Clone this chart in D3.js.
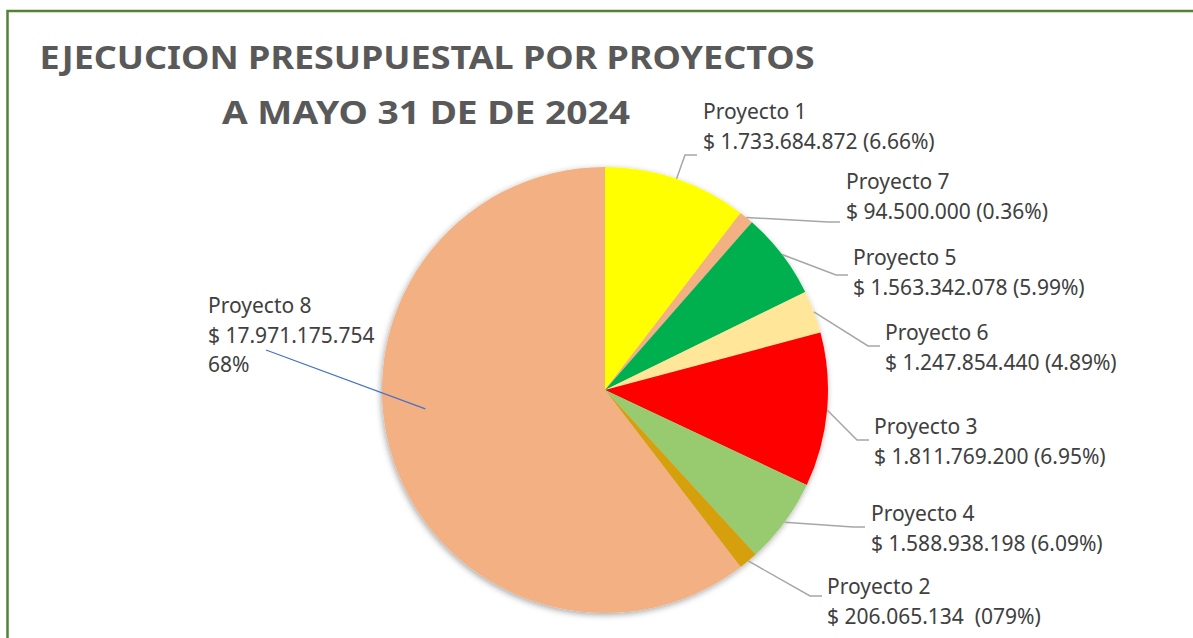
<!DOCTYPE html>
<html>
<head>
<meta charset="utf-8">
<script src="https://cdn.jsdelivr.net/npm/d3@7"></script>
<style>
  body { margin: 0; background: #fff; }
  svg { display: block; }
</style>
</head>
<body>
<div id="pie-chart"></div>
<script>
// slices in drawing order, clockwise from 12 o'clock
const proyectos = ['Proyecto 1', 'Proyecto 7', 'Proyecto 5', 'Proyecto 6', 'Proyecto 3', 'Proyecto 4', 'Proyecto 2', 'Proyecto 8']
const montos = ['$ 1.733.684.872', '$ 94.500.000', '$ 1.563.342.078', '$ 1.247.854.440', '$ 1.811.769.200', '$ 1.588.938.198', '$ 206.065.134', '$ 17.971.175.754']
const porcentajes = ['(6.66%)', '(0.36%)', '(5.99%)', '(4.89%)', '(6.95%)', '(6.09%)', ' (079%)', '68%']
// share of the circle each slice takes in the picture (percent)
const sliceShare = [10.4, 1.05, 6.3, 3.1, 11.15, 6.2, 1.4, 60.4]
const colores = ['#FFFF00', '#F2B083', '#00B050', '#FFE699', '#FF0000', 'url(#grad-p4)', 'url(#grad-p2)', '#F2B083']

const titulo = ['EJECUCION PRESUPUESTAL POR PROYECTOS', 'A MAYO 31 DE DE 2024']

const width = 1193
const height = 638
const cx = 605
const cy = 390
const radius = 223

// label text position and where its leader line ends
const labelLayout = [
  { tx: 703, ty: 119, lx: 697, ly: 155 },
  { tx: 846, ty: 189, lx: 840, ly: 222 },
  { tx: 853, ty: 265, lx: 848, ly: 275 },
  { tx: 885, ty: 340, lx: 880, ly: 346 },
  { tx: 874, ty: 434, lx: 869, ly: 440 },
  { tx: 871, ty: 521, lx: 865, ly: 527 },
  { tx: 827, ty: 594, lx: 822, ly: 596 },
  { tx: 208, ty: 313, lx: 266, ly: 350 }
]

const datapoints = proyectos.map((p, i) => ({
  name: p,
  monto: montos[i],
  pct: porcentajes[i],
  share: sliceShare[i],
  color: colores[i],
  layout: labelLayout[i]
}))

const svg = d3
  .select('#pie-chart')
  .append('svg')
  .attr('width', width)
  .attr('height', height)

const defs = svg.append('defs')

const shadow = defs.append('filter')
  .attr('id', 'shadow')
  .attr('x', '-10%').attr('y', '-10%')
  .attr('width', '120%').attr('height', '120%')
shadow.append('feDropShadow')
  .attr('dx', -1).attr('dy', 2)
  .attr('stdDeviation', 3)
  .attr('flood-color', '#000')
  .attr('flood-opacity', 0.35)

const g4 = defs.append('linearGradient')
  .attr('id', 'grad-p4')
  .attr('gradientUnits', 'userSpaceOnUse')
  .attr('x1', 0).attr('y1', cy).attr('x2', 0).attr('y2', cy + radius * 0.8)
g4.append('stop').attr('offset', '0%').attr('stop-color', '#98CB70')
g4.append('stop').attr('offset', '100%').attr('stop-color', '#70AC4A')

const g2 = defs.append('linearGradient')
  .attr('id', 'grad-p2')
  .attr('gradientUnits', 'userSpaceOnUse')
  .attr('x1', 0).attr('y1', cy).attr('x2', 0).attr('y2', cy + radius)
g2.append('stop').attr('offset', '0%').attr('stop-color', '#D6A010')
g2.append('stop').attr('offset', '100%').attr('stop-color', '#C79000')

// green frame (top and left edges visible)
svg.append('path')
  .attr('d', `M7.5,${height + 5} L7.5,11 L${width + 5},11`)
  .attr('fill', 'none')
  .attr('stroke', '#548235')
  .attr('stroke-width', 2.5)

// title
const titleG = svg.append('g')
  .attr('font-family', 'Noto Sans, sans-serif')
  .attr('font-weight', 'bold')
  .attr('fill', '#595959')
  .attr('text-anchor', 'middle')

titleG.append('text')
  .attr('x', 427)
  .attr('y', 69)
  .attr('font-size', 32)
  .attr('textLength', 775)
  .attr('lengthAdjust', 'spacingAndGlyphs')
  .text(titulo[0])

titleG.append('text')
  .attr('x', 426)
  .attr('y', 124)
  .attr('font-size', 32)
  .attr('textLength', 408)
  .attr('lengthAdjust', 'spacingAndGlyphs')
  .text(titulo[1])

const pie = d3.pie()
  .sort(null)
  .value(d => d.share)

const arc = d3.arc()
  .innerRadius(0)
  .outerRadius(radius)

const arcs = pie(datapoints)

const pieG = svg.append('g')
  .attr('transform', `translate(${cx},${cy})`)

pieG.append('g')
  .attr('filter', 'url(#shadow)')
  .selectAll('path')
  .data(arcs)
  .enter()
  .append('path')
  .attr('d', arc)
  .attr('fill', d => d.data.color)

// leader lines
const leaders = svg.append('g')
  .attr('fill', 'none')

leaders.selectAll('path')
  .data(arcs)
  .enter()
  .append('path')
  .attr('d', d => {
    const L = d.data.layout
    if (d.data.name === 'Proyecto 8') {
      // inside leader: ends part way into the slice
      const a = 264 * Math.PI / 180
      const ex = cx + Math.sin(a) * radius * 0.81
      const ey = cy - Math.cos(a) * radius * 0.81
      return `M${L.lx},${L.ly} L${ex},${ey}`
    }
    const mid = (d.startAngle + d.endAngle) / 2
    const sx = cx + Math.sin(mid) * radius
    const sy = cy - Math.cos(mid) * radius
    return `M${sx},${sy} L${L.lx - 12},${L.ly} L${L.lx},${L.ly}`
  })
  .attr('stroke', d => d.data.name === 'Proyecto 8' ? '#4472C4' : '#A6A6A6')
  .attr('stroke-width', d => d.data.name === 'Proyecto 8' ? 1.2 : 1.5)

// labels
const labels = svg.append('g')
  .attr('font-family', 'Noto Sans, sans-serif')
  .attr('font-size', 21)
  .attr('fill', '#404040')

labels.selectAll('text')
  .data(datapoints)
  .enter()
  .append('text')
  .attr('x', d => d.layout.tx)
  .attr('y', d => d.layout.ty)
  .each(function(d) {
    const t = d3.select(this)
    const lines = d.name === 'Proyecto 8'
      ? [d.name, d.monto, d.pct]
      : [d.name, d.monto + ' ' + d.pct]
    lines.forEach((line, i) => {
      t.append('tspan')
        .attr('x', d.layout.tx)
        .attr('dy', i === 0 ? 0 : 29.5)
        .attr('xml:space', 'preserve')
        .style('white-space', 'pre')
        .text(line)
    })
  })
</script>
</body>
</html>
